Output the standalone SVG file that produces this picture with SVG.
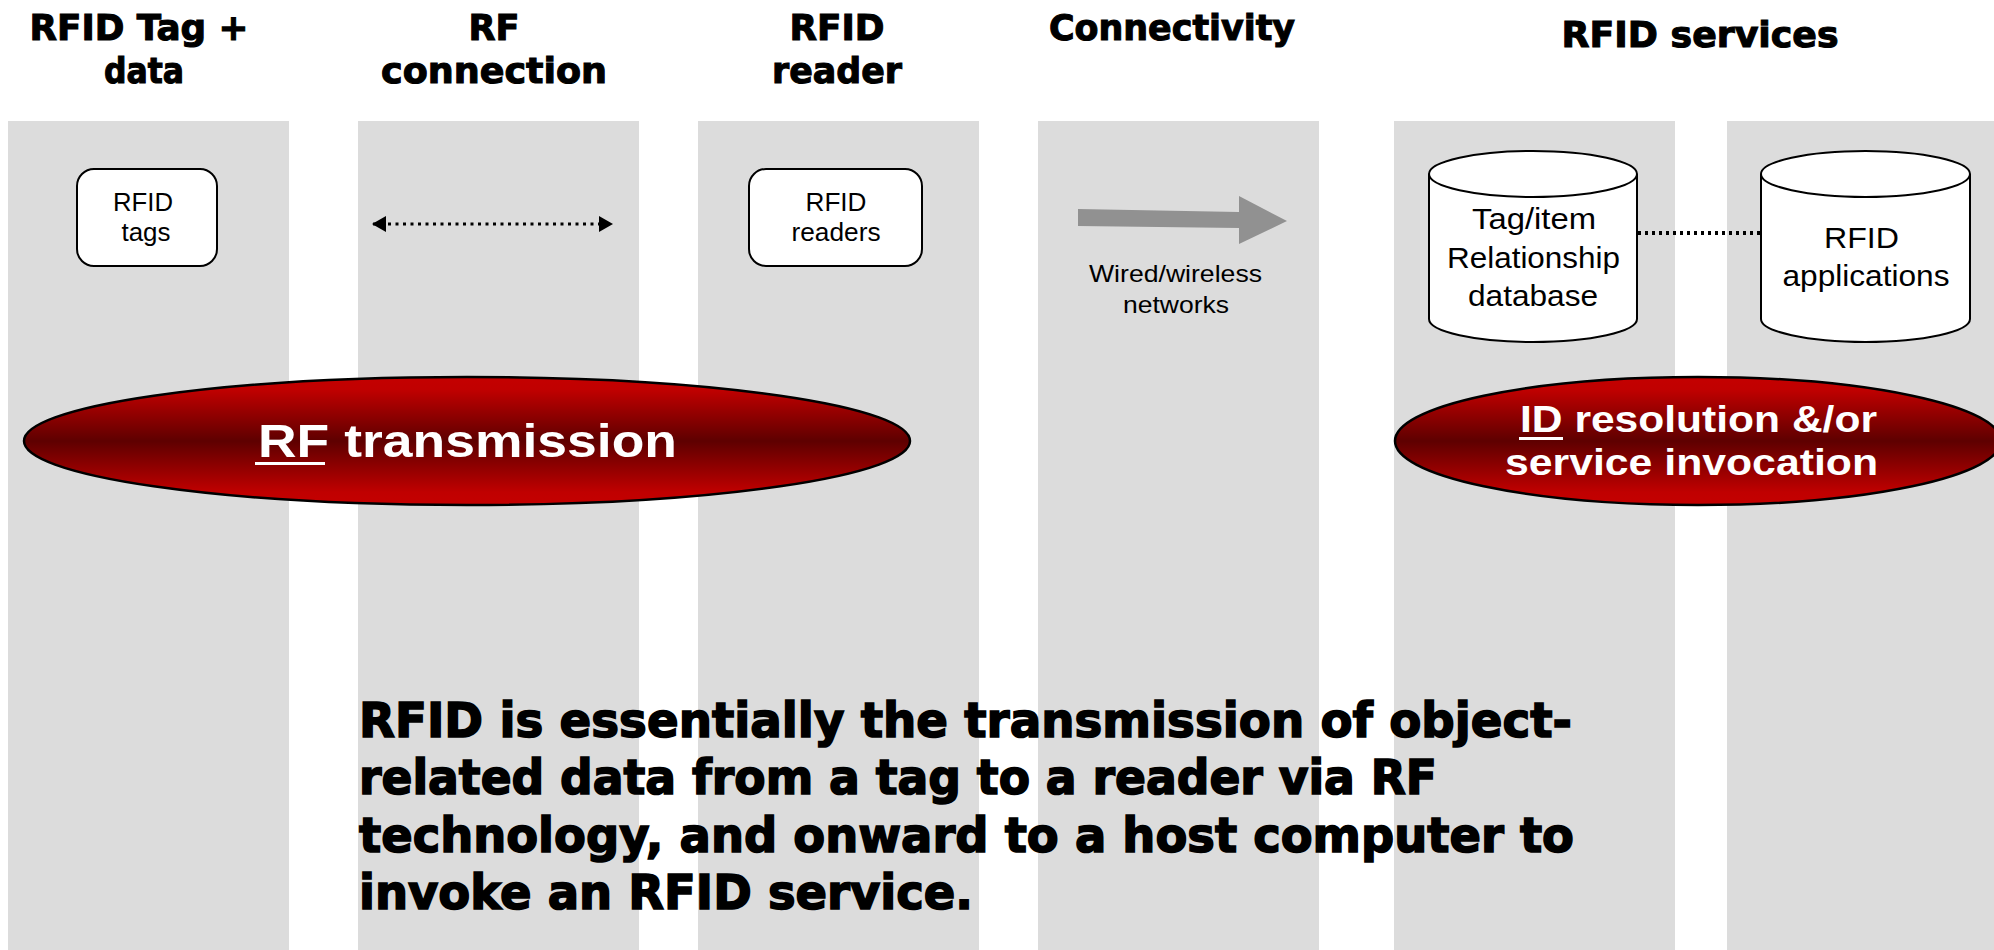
<svg xmlns="http://www.w3.org/2000/svg" width="1994" height="950" viewBox="0 0 1994 950">
<style>
.col{fill:#dcdcdc}
.hdr{font-family:"DejaVu Sans","Liberation Sans",sans-serif;font-weight:bold;font-size:36px;fill:#000;stroke:#000;stroke-width:1.1px;text-anchor:middle}
.lbl{font-family:"Liberation Sans",Arial,sans-serif;fill:#000;text-anchor:middle}
.box{fill:#fff;stroke:#000;stroke-width:2}
.oval{fill:url(#red);stroke:#000;stroke-width:2.5}
.wt{font-family:"Liberation Sans",Arial,sans-serif;font-weight:bold;fill:#fff;text-anchor:middle}
.body{font-family:"DejaVu Sans","Liberation Sans",sans-serif;font-weight:bold;font-size:48px;fill:#000;stroke:#000;stroke-width:1.6px}
.dot{fill:none;stroke:#000}
</style>
<defs>
<linearGradient id="red" x1="0" y1="0" x2="0" y2="1">
<stop offset="0" stop-color="#c40000"/>
<stop offset="0.1" stop-color="#c00000"/>
<stop offset="0.5" stop-color="#5e0000"/>
<stop offset="0.9" stop-color="#c00000"/>
<stop offset="1" stop-color="#c40000"/>
</linearGradient>
<marker id="tri" viewBox="0 0 14 16" refX="13" refY="8" markerWidth="14" markerHeight="16" orient="auto-start-reverse" markerUnits="userSpaceOnUse">
<path d="M0,0 L14,8 L0,16 Z" fill="#000"/>
</marker>
</defs>
<rect width="1994" height="950" fill="#fff"/>
<g id="columns">
<rect class="col" x="8" y="121" width="281" height="829"/>
<rect class="col" x="358" y="121" width="281" height="829"/>
<rect class="col" x="698" y="121" width="281" height="829"/>
<rect class="col" x="1038" y="121" width="281" height="829"/>
<rect class="col" x="1394" y="121" width="281" height="829"/>
<rect class="col" x="1727" y="121" width="281" height="829"/>
</g>
<g id="headers">
<text class="hdr" x="139" y="40" textLength="219" lengthAdjust="spacingAndGlyphs">RFID Tag +</text>
<text class="hdr" x="144" y="83" textLength="80" lengthAdjust="spacingAndGlyphs">data</text>
<text class="hdr" x="494" y="40" textLength="51" lengthAdjust="spacingAndGlyphs">RF</text>
<text class="hdr" x="494" y="83" textLength="226" lengthAdjust="spacingAndGlyphs">connection</text>
<text class="hdr" x="837" y="40" textLength="95" lengthAdjust="spacingAndGlyphs">RFID</text>
<text class="hdr" x="837" y="83" textLength="130" lengthAdjust="spacingAndGlyphs">reader</text>
<text class="hdr" x="1172" y="40" textLength="246" lengthAdjust="spacingAndGlyphs">Connectivity</text>
<text class="hdr" x="1700" y="47" textLength="277" lengthAdjust="spacingAndGlyphs">RFID services</text>
</g>
<g id="connectors">
<line class="dot" x1="373" y1="224" x2="612" y2="224" stroke-width="3" stroke-dasharray="3 4.5" marker-start="url(#tri)" marker-end="url(#tri)"/>
<polygon id="network-arrow" points="1078,209 1239,212 1239,196 1287,221 1239,244 1239,228 1078,226" fill="#919191"/>
<line class="dot" x1="1638" y1="233" x2="1760" y2="233" stroke-width="4" stroke-dasharray="3 4"/>
</g>
<g id="node-tags">
<rect class="box" x="77" y="169" width="140" height="97" rx="17"/>
<text class="lbl" x="143" y="211" font-size="25" textLength="60" lengthAdjust="spacingAndGlyphs">RFID</text>
<text class="lbl" x="146" y="241" font-size="25" textLength="49" lengthAdjust="spacingAndGlyphs">tags</text>
</g>
<g id="node-readers">
<rect class="box" x="749" y="169" width="173" height="97" rx="17"/>
<text class="lbl" x="836" y="211" font-size="25" textLength="61" lengthAdjust="spacingAndGlyphs">RFID</text>
<text class="lbl" x="836" y="241" font-size="25" textLength="89" lengthAdjust="spacingAndGlyphs">readers</text>
</g>
<g id="node-network">
<text class="lbl" x="1175.5" y="282" font-size="24" textLength="173" lengthAdjust="spacingAndGlyphs">Wired/wireless</text>
<text class="lbl" x="1176" y="313" font-size="24" textLength="106" lengthAdjust="spacingAndGlyphs">networks</text>
</g>
<g id="node-database">
<path class="box" d="M1429,174 L1429,319 A104,23 0 0 0 1637,319 L1637,174"/>
<ellipse class="box" cx="1533" cy="174" rx="104" ry="23"/>
<text class="lbl" x="1534" y="229" font-size="29" textLength="124" lengthAdjust="spacingAndGlyphs">Tag/item</text>
<text class="lbl" x="1533.5" y="268" font-size="29" textLength="173" lengthAdjust="spacingAndGlyphs">Relationship</text>
<text class="lbl" x="1533" y="306" font-size="29" textLength="130" lengthAdjust="spacingAndGlyphs">database</text>
</g>
<g id="node-applications">
<path class="box" d="M1761,174 L1761,319 A104.5,23 0 0 0 1970,319 L1970,174"/>
<ellipse class="box" cx="1865.5" cy="174" rx="104.5" ry="23"/>
<text class="lbl" x="1861.5" y="248" font-size="29" textLength="75" lengthAdjust="spacingAndGlyphs">RFID</text>
<text class="lbl" x="1866" y="286" font-size="29" textLength="167" lengthAdjust="spacingAndGlyphs">applications</text>
</g>
<g id="node-rf-transmission">
<ellipse class="oval" cx="467" cy="441" rx="443" ry="64"/>
<text class="wt" x="467.5" y="457" font-size="46" textLength="419" lengthAdjust="spacingAndGlyphs">RF transmission</text>
<rect x="255" y="462" width="70" height="3" fill="#fff"/>
</g>
<g id="node-id-resolution">
<ellipse class="oval" cx="1698" cy="441" rx="303" ry="64"/>
<text class="wt" x="1698.5" y="432" font-size="36" textLength="357" lengthAdjust="spacingAndGlyphs">ID resolution &amp;/or</text>
<text class="wt" x="1691.5" y="475" font-size="36" textLength="373" lengthAdjust="spacingAndGlyphs">service invocation</text>
<rect x="1519" y="437" width="44" height="3" fill="#fff"/>
</g>
<g id="summary">
<text class="body" x="359" y="737" textLength="1213" lengthAdjust="spacingAndGlyphs">RFID is essentially the transmission of object-</text>
<text class="body" x="359" y="794" textLength="1078" lengthAdjust="spacingAndGlyphs">related data from a tag to a reader via RF</text>
<text class="body" x="359" y="852" textLength="1215" lengthAdjust="spacingAndGlyphs">technology, and onward to a host computer to</text>
<text class="body" x="359" y="909" textLength="614" lengthAdjust="spacingAndGlyphs">invoke an RFID service.</text>
</g>
</svg>
